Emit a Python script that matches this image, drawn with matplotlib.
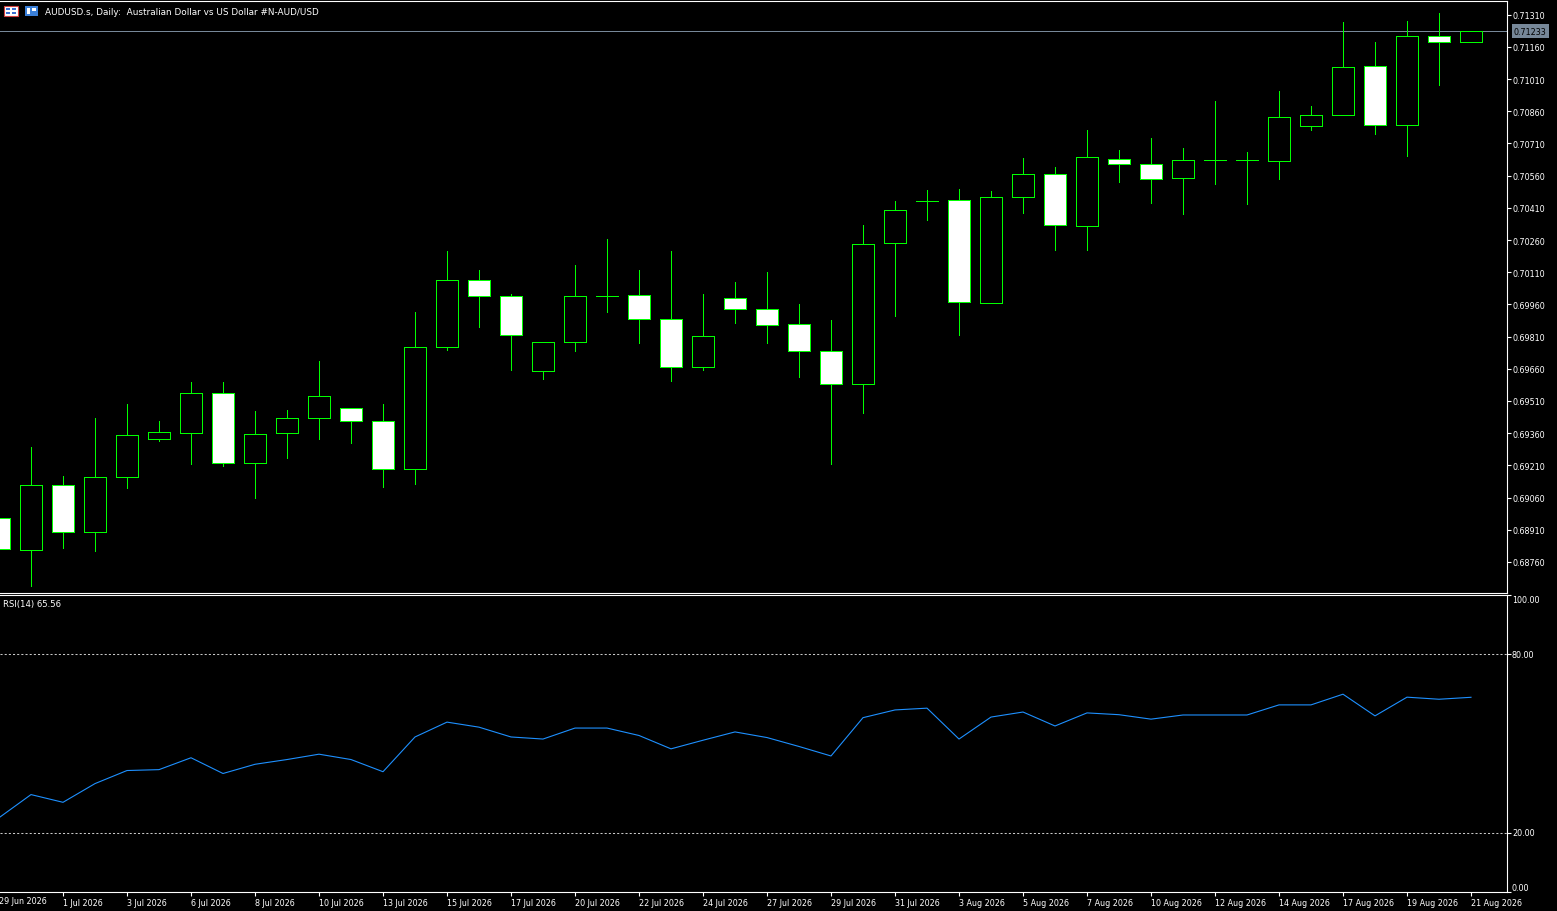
import numpy as np
import matplotlib
matplotlib.use("Agg")
import matplotlib.pyplot as plt
from matplotlib.patches import Rectangle

# Daily bars (MT4 style, Sunday bars included)
dates = ["29 Jun 2026", "30 Jun 2026", "1 Jul 2026", "2 Jul 2026", "3 Jul 2026",
         "5 Jul 2026", "6 Jul 2026", "7 Jul 2026", "8 Jul 2026", "9 Jul 2026",
         "10 Jul 2026", "12 Jul 2026", "13 Jul 2026", "14 Jul 2026", "15 Jul 2026",
         "16 Jul 2026", "17 Jul 2026", "19 Jul 2026", "20 Jul 2026", "21 Jul 2026",
         "22 Jul 2026", "23 Jul 2026", "24 Jul 2026", "26 Jul 2026", "27 Jul 2026",
         "28 Jul 2026", "29 Jul 2026", "30 Jul 2026", "31 Jul 2026", "2 Aug 2026",
         "3 Aug 2026", "4 Aug 2026", "5 Aug 2026", "6 Aug 2026", "7 Aug 2026",
         "9 Aug 2026", "10 Aug 2026", "11 Aug 2026", "12 Aug 2026", "13 Aug 2026",
         "14 Aug 2026", "16 Aug 2026", "17 Aug 2026", "18 Aug 2026", "19 Aug 2026",
         "20 Aug 2026", "21 Aug 2026"]

opens = [0.68965, 0.68814, 0.69117, 0.68898, 0.69154, 0.69331, 0.69359, 0.69546,
         0.69220, 0.69359, 0.69429, 0.69476, 0.69415, 0.69192, 0.69760, 0.70072,
         0.69998, 0.69648, 0.69783, 0.69998, 0.70002, 0.69891, 0.69667, 0.69988,
         0.69937, 0.69867, 0.69741, 0.69588, 0.70245, 0.70443, 0.70445, 0.69965,
         0.70459, 0.70566, 0.70324, 0.70636, 0.70613, 0.70548, 0.70633, 0.70633,
         0.70627, 0.70790, 0.70841, 0.71070, 0.70795, 0.71209, 0.71181]
highs = [0.69000, 0.69294, 0.69160, 0.69431, 0.69496, 0.69417, 0.69598, 0.69598,
         0.69463, 0.69468, 0.69696, 0.69476, 0.69496, 0.69925, 0.70209, 0.70120,
         0.70009, 0.69783, 0.70144, 0.70265, 0.70120, 0.70209, 0.70009, 0.70064,
         0.70111, 0.69962, 0.69887, 0.70330, 0.70442, 0.70493, 0.70498, 0.70488,
         0.70642, 0.70600, 0.70773, 0.70680, 0.70735, 0.70689, 0.70908, 0.70670,
         0.70954, 0.70885, 0.71276, 0.71183, 0.71281, 0.71318, 0.71233]
lows = [0.68780, 0.68649, 0.68826, 0.68812, 0.69106, 0.69325, 0.69218, 0.69208,
        0.69059, 0.69246, 0.69334, 0.69316, 0.69111, 0.69125, 0.69749, 0.69856,
        0.69656, 0.69614, 0.69744, 0.69926, 0.69782, 0.69604, 0.69656, 0.69875,
        0.69782, 0.69623, 0.69218, 0.69455, 0.69907, 0.70355, 0.69819, 0.69965,
        0.70387, 0.70215, 0.70215, 0.70532, 0.70434, 0.70383, 0.70523, 0.70429,
        0.70546, 0.70774, 0.70841, 0.70756, 0.70650, 0.70984, 0.71181]
closes = [0.68820, 0.69117, 0.68898, 0.69154, 0.69350, 0.69364, 0.69546, 0.69220,
          0.69355, 0.69429, 0.69532, 0.69415, 0.69192, 0.69760, 0.70072, 0.69998,
          0.69816, 0.69783, 0.69998, 0.69998, 0.69891, 0.69667, 0.69811, 0.69937,
          0.69863, 0.69741, 0.69588, 0.70240, 0.70399, 0.70443, 0.69970, 0.70459,
          0.70566, 0.70329, 0.70646, 0.70614, 0.70543, 0.70632, 0.70633, 0.70633,
          0.70832, 0.70841, 0.71065, 0.70795, 0.71209, 0.71181, 0.71233]

rsi = [25.0, 32.8, 30.2, 36.5, 40.9, 41.2, 45.2, 39.9, 43.0, 44.6, 46.4, 44.6,
       40.5, 52.2, 57.2, 55.5, 52.2, 51.5, 55.2, 55.2, 52.7, 48.2, 51.1, 53.9,
       52.0, 49.0, 45.8, 58.7, 61.3, 61.9, 51.5, 58.9, 60.6, 55.9, 60.3, 59.7,
       58.2, 59.6, 59.6, 59.6, 63.0, 63.0, 66.6, 59.3, 65.6, 64.9, 65.56]

price_ticks = [0.68760, 0.68910, 0.69060, 0.69210, 0.69360, 0.69510, 0.69660,
               0.69810, 0.69960, 0.70110, 0.70260, 0.70410, 0.70560, 0.70710,
               0.70860, 0.71010, 0.71160, 0.71310]
rsi_levels = [20, 80]
rsi_ticks = [0, 20, 80, 100]
bid = 0.71233

title = "AUDUSD.s, Daily:  Australian Dollar vs US Dollar #N-AUD/USD"
rsi_title = "RSI(14) 65.56"

W, H = 1557, 912
FS = 5.8
GREEN = "#00ff00"
plt.rcParams['font.family'] = ['DejaVu Sans']

fig = plt.figure(figsize=(W / 100, H / 100), dpi=100, facecolor="black")


def frac(x0, y0, x1, y1):
    # pixel box (top-left origin) -> figure fraction [l, b, w, h]
    return [x0 / W, 1 - y1 / H, (x1 - x0) / W, (y1 - y0) / H]


ax = fig.add_axes(frac(0, 2, 1507, 594), facecolor="black")
ax2 = fig.add_axes(frac(0, 596, 1507, 893), facecolor="black")

x = np.arange(len(dates))
xlim = (1 / 32, 1508 / 32)

# candles: bull = black body, bear = white body, green outline
o = np.array(opens)
c = np.array(closes)
bull = c >= o
body_lo = np.minimum(o, c)
body_h = np.maximum(np.abs(c - o), 0.000005)
ax.vlines(x, lows, highs, color=GREEN, lw=0.5, zorder=2, antialiased=False)
ax.bar(x, body_h, bottom=body_lo, width=0.69,
       color=np.where(bull, "black", "white"), edgecolor=GREEN,
       linewidth=0.6, zorder=3, antialiased=False)

ax.axhline(bid, color="#778899", lw=0.5, zorder=1, antialiased=False)
ax.annotate(f"{bid:.5f}", xy=(1, bid), xycoords=ax.get_yaxis_transform(),
            xytext=(7, 0), textcoords="offset pixels", va="center", ha="left",
            fontsize=FS, color="black", annotation_clip=False,
            bbox=dict(boxstyle="square,pad=0.3", fc="#778899", ec="none"))

ax.set_xlim(*xlim)
ax.set_ylim(0.7131 - 578.3 * 0.0000466, 0.7131 + 13.7 * 0.0000466)
ax.set_yticks(price_ticks)
ax.set_yticklabels([f"{t:.5f}" for t in price_ticks])
ax.tick_params(axis="y", left=False, labelleft=False, right=True, labelright=True,
               direction="out", length=3, width=0.8, colors="white",
               labelsize=FS, pad=1)
ax.set_xticks([])

# RSI panel
ax2.plot(x, rsi, color="#1e90ff", lw=0.8, zorder=3)
for lv in rsi_levels:
    ax2.axhline(lv, color="#c8c8c8", lw=0.75, ls=(0, (2, 2)), zorder=2)
ax2.set_xlim(*xlim)
ax2.set_ylim(0, 100)
ax2.set_yticks(rsi_ticks)
ax2.set_yticklabels([])
ax2.tick_params(axis="y", left=False, right=True, direction="out", length=3,
                width=0.8, colors="white")
for t in rsi_ticks:
    va = "top" if t == 100 else ("bottom" if t == 0 else "center")
    ax2.annotate(f"{t:.2f}", xy=(1, t), xycoords=ax2.get_yaxis_transform(),
                 xytext=(5, 0), textcoords="offset pixels", va=va, ha="left",
                 fontsize=FS, color="white", annotation_clip=False)

lbl_idx = x[::2]
ax2.set_xticks(lbl_idx[1:])
ax2.set_xticklabels([dates[i] for i in lbl_idx[1:]], ha="left")
ax2.tick_params(axis="x", direction="out", length=3, width=0.8, colors="white",
                labelsize=FS, pad=1)
ax2.text(0, -0.012, dates[0], transform=ax2.get_xaxis_transform(), ha="left",
         va="top", fontsize=FS, color="white", clip_on=False)

for a in (ax, ax2):
    a.spines["left"].set_visible(False)
    for s in ("top", "right", "bottom"):
        a.spines[s].set_color("white")
        a.spines[s].set_linewidth(0.8)

# header text and icons
fig.text(45 / W, 1 - 12.5 / H, title, fontsize=6.4, color="white", va="center", ha="left")
fig.text(3 / W, 1 - 605 / H, rsi_title, fontsize=6.1, color="white", va="center", ha="left")

ico = [
    Rectangle((4 / W, 1 - 17 / H), 14 / W, 10 / H, fc="white", ec="#d04040", lw=0.8),
    Rectangle((6 / W, 1 - 11 / H), 4 / W, 2 / H, fc="#3a6fd0", ec="none"),
    Rectangle((12 / W, 1 - 11 / H), 4 / W, 2 / H, fc="#3a6fd0", ec="none"),
    Rectangle((6 / W, 1 - 15 / H), 4 / W, 2 / H, fc="#3a6fd0", ec="none"),
    Rectangle((12 / W, 1 - 15 / H), 4 / W, 2 / H, fc="#3a6fd0", ec="none"),
    Rectangle((25 / W, 1 - 17 / H), 13 / W, 10 / H, fc="#3a7fd8", ec="none"),
    Rectangle((27 / W, 1 - 15 / H), 3 / W, 6 / H, fc="white", ec="none"),
    Rectangle((32 / W, 1 - 12 / H), 4 / W, 3 / H, fc="white", ec="none"),
]
for r in ico:
    r.set_transform(fig.transFigure)
    fig.add_artist(r)

fig.savefig("out.png", dpi=100, facecolor="black")
